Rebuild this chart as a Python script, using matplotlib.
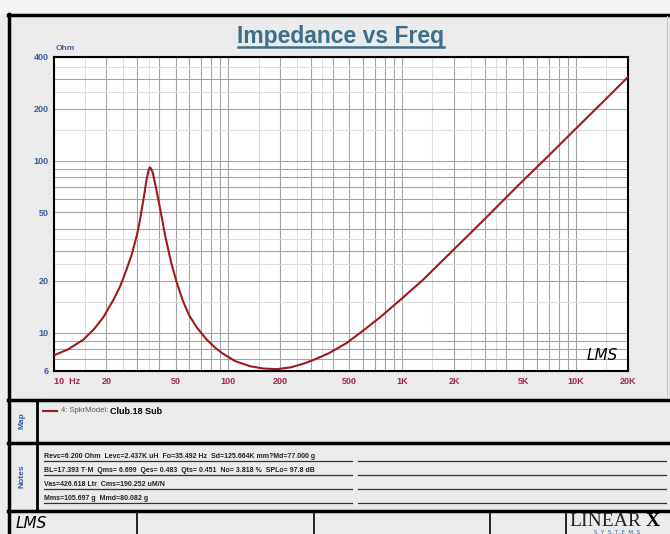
import matplotlib
matplotlib.use('Agg')
import matplotlib.pyplot as plt
from matplotlib.patches import Rectangle
from matplotlib.ticker import FixedLocator, NullLocator

# impedance curve
freq = [10, 12, 14.7, 17, 19.2, 22, 24, 26, 28, 30, 31.2, 33, 34.1, 35, 35.5,
        36, 37, 39, 41, 43.5, 47, 50.8, 55, 60, 66, 75, 85, 94, 110, 134, 160,
        191, 230, 270, 310, 380, 480, 600, 750, 1000, 1330, 2000, 3000, 3835,
        5000, 7000, 10000, 14000, 20000]
imp = [7.4, 8.0, 9.1, 10.5, 12.3, 15.6, 18.6, 23.0, 28.5, 37.0, 45.0, 63.0,
       78.0, 88.0, 91.4, 90.5, 85.0, 66.0, 51.0, 37.0, 26.0, 19.6, 15.4, 12.6,
       10.8, 9.2, 8.15, 7.55, 6.85, 6.4, 6.2, 6.15, 6.3, 6.6, 6.95, 7.6, 8.7,
       10.3, 12.3, 15.8, 20.4, 30.6, 45.8, 58.8, 76.8, 107.0, 153.0, 214.0, 306.0]

xticks = [10, 20, 50, 100, 200, 500, 1000, 2000, 5000, 10000, 20000]
xlabels = ['10  Hz', '20', '50', '100', '200', '500', '1K', '2K', '5K', '10K', '20K']
yticks = [6, 10, 20, 50, 100, 200, 400]
ylabels = ['6', '10', '20', '50', '100', '200', '400']

legend_id = '4: SpkrModel: '
legend_name = 'Club.18 Sub'
notes = ['Revc=6.200 Ohm  Levc=2.437K uH  Fo=35.492 Hz  Sd=125.664K mm?Md=77.000 g',
         'BL=17.393 T\u00b7M  Qms= 6.699  Qes= 0.483  Qts= 0.451  No= 3.818 %  SPLo= 97.8 dB',
         'Vas=426.618 Ltr  Cms=190.252 uM/N',
         'Mms=105.697 g  Mmd=80.082 g']

narrow = ['Liberation Sans Narrow', 'Liberation Sans', 'DejaVu Sans']
blue = '#3a5d9c'
red = '#9e1b1b'

fig = plt.figure(figsize=(6.7, 5.34), dpi=100, facecolor='#ebebeb')

# page furniture, drawn in pixel coords
bg = fig.add_axes([0, 0, 1, 1], zorder=0)
bg.set_xlim(0, 670)
bg.set_ylim(534, 0)
bg.axis('off')
bg.add_patch(Rectangle((0, 0), 670, 14, color='#f3f4f6', lw=0))
bg.plot([8, 670], [15, 15], color='black', lw=2.5)
bg.plot([9, 9], [14, 534], color='black', lw=2.5)
bg.plot([667, 667], [16, 400], color='#c8c8c8', lw=0.8)
for yy in [400, 443, 511]:
    bg.plot([8, 670], [yy, yy], color='black', lw=2.5)
bg.plot([37, 37], [400, 511], color='black', lw=2)
for xx in [137, 314, 490, 566]:
    bg.plot([xx, xx], [511, 534], color='black', lw=1.2)

# title with underline
bg.text(341, 36, 'Impedance vs Freq', ha='center', va='center', fontsize=16.5,
        fontweight='bold', color='#3f6f88', family=narrow)
bg.plot([238, 444], [47, 47], color='#3f6f88', lw=1.8)
bg.text(56, 49, 'Ohm', ha='left', va='center', fontsize=6, fontweight='bold',
        color=blue, family=narrow)

# map panel
bg.text(22, 421, 'Map', rotation=90, ha='center', va='center', fontsize=6,
        fontweight='bold', color=blue, family=narrow)
bg.plot([43, 57], [411, 411], color=red, lw=1.5)
lid = bg.text(61, 411, legend_id, ha='left', va='center', fontsize=5.5,
              color='#555555', family=narrow)
bg.annotate(legend_name, xy=(1, 0.5), xycoords=lid, ha='left', va='center',
            fontsize=6.5, fontweight='bold', color='black', family=narrow)

# notes panel
bg.text(22, 476, 'Notes', rotation=90, ha='center', va='center', fontsize=6,
        fontweight='bold', color=blue, family=narrow)
rows = [457, 471, 485, 498.5]
for txt, yy in zip(notes, rows):
    bg.text(44, yy, txt, ha='left', va='center', fontsize=5, fontweight='bold',
            color='#222222', family=narrow)
    bg.plot([44, 352], [yy + 4, yy + 4], color='#333333', lw=0.9)
    bg.plot([358, 666], [yy + 4, yy + 4], color='#333333', lw=0.9)

# footer logos
bg.text(16, 524, 'LMS', ha='left', va='center', fontsize=11, style='italic',
        color='black', family='DejaVu Sans', fontweight='light')
bg.text(569, 522, 'LINEAR', ha='left', va='center', fontsize=14,
        color='#222222', family='Liberation Serif')
bg.text(646, 522, 'X', ha='left', va='center', fontsize=14, fontweight='bold',
        color='black', family='Liberation Serif')
bg.text(617, 533, 'S  Y  S  T  E  M  S', ha='center', va='center', fontsize=4,
        color=blue, family='DejaVu Sans')

# the chart
ax = fig.add_axes([54 / 670, 1 - 371 / 534, 574 / 670, 314 / 534], zorder=2)
ax.set_facecolor('white')
ax.set_xscale('log')
ax.set_yscale('log')
ax.set_xlim(10, 20000)
ax.set_ylim(6, 400)

dark_x = [k * 10 ** d for d in range(1, 5) for k in range(1, 10) if k * 10 ** d <= 20000]
light_x = [k * 10 ** d for d in range(1, 5) for k in (1.5, 2.5, 3.5) if k * 10 ** d <= 20000]
dark_y = [6, 7, 8, 9, 10, 20, 30, 40, 50, 60, 70, 80, 90, 100, 200, 300, 400]
light_y = [15, 25, 35, 150, 250, 350]
for v in light_x:
    ax.axvline(v, color='#dddddd', lw=0.8, zorder=1)
for v in dark_x:
    ax.axvline(v, color='#a4a4a4', lw=0.8, zorder=1)
for v in light_y:
    ax.axhline(v, color='#dddddd', lw=0.8, zorder=1)
for v in dark_y:
    ax.axhline(v, color='#a4a4a4', lw=0.8, zorder=1)

ax.plot(freq, imp, color=red, lw=1.5, zorder=3)

ax.xaxis.set_major_locator(FixedLocator(xticks))
ax.xaxis.set_minor_locator(NullLocator())
ax.set_xticklabels(xlabels)
ax.yaxis.set_major_locator(FixedLocator(yticks))
ax.yaxis.set_minor_locator(NullLocator())
ax.set_yticklabels(ylabels)
ax.tick_params(length=0, pad=4)
for lab in ax.get_xticklabels():
    lab.set_fontsize(6.5)
    lab.set_fontweight('bold')
    lab.set_color('#a3284c')
    lab.set_family(narrow)
ax.get_xticklabels()[0].set_ha('left')
for lab in ax.get_yticklabels():
    lab.set_fontsize(6.5)
    lab.set_fontweight('bold')
    lab.set_color(blue)
    lab.set_family(narrow)
for s in ax.spines.values():
    s.set_color('black')
    s.set_linewidth(1.5)

ax.text(0.955, 0.05, 'LMS', transform=ax.transAxes, ha='center', va='center',
        fontsize=11, style='italic', color='black', fontweight='light', zorder=4)

fig.savefig('out.png', dpi=100, facecolor=fig.get_facecolor())
